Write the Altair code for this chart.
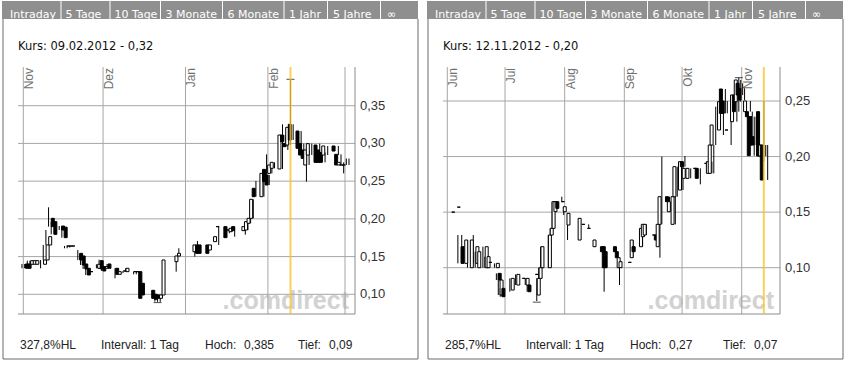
import altair as alt
import pandas as pd
import numpy as np

# ---------------- left panel: 3 months, Nov 2011 - Feb 2012 ----------------
L_dates = ["2011-10-31", "2011-11-01", "2011-11-02", "2011-11-03", "2011-11-04", "2011-11-07", "2011-11-08",
           "2011-11-09", "2011-11-10", "2011-11-11", "2011-11-14", "2011-11-15", "2011-11-16", "2011-11-17",
           "2011-11-18", "2011-11-21", "2011-11-22", "2011-11-23", "2011-11-24", "2011-11-25", "2011-11-28",
           "2011-11-29", "2011-11-30", "2011-12-01", "2011-12-02", "2011-12-05", "2011-12-06", "2011-12-08",
           "2011-12-09", "2011-12-12", "2011-12-13", "2011-12-14", "2011-12-15", "2011-12-19", "2011-12-20",
           "2011-12-21", "2011-12-22", "2011-12-23", "2011-12-28", "2011-12-29", "2012-01-04", "2012-01-05",
           "2012-01-06", "2012-01-09", "2012-01-10", "2012-01-12", "2012-01-13", "2012-01-16", "2012-01-17",
           "2012-01-18", "2012-01-19", "2012-01-23", "2012-01-24", "2012-01-25", "2012-01-26", "2012-01-27",
           "2012-01-30", "2012-01-31", "2012-02-01", "2012-02-02", "2012-02-03", "2012-02-06", "2012-02-07",
           "2012-02-08", "2012-02-09", "2012-02-10", "2012-02-13", "2012-02-14", "2012-02-15", "2012-02-16",
           "2012-02-17", "2012-02-20", "2012-02-21", "2012-02-22", "2012-02-23", "2012-02-27", "2012-02-28",
           "2012-02-29", "2012-03-01", "2012-03-02"]
L_open = [.1402, .1402, .1398, .1398, .1398, .1398, .1455, .1654, .2007, .1963, .1905, .1890, .1640, .1640,
          .1640, .1543, .1508, .1402, .1345, .1300, .1345, .1446, .1367, .1345, .1402, .1345, .1265, .1309,
          .1300, .1300, .1300, .1300, .1146, .1053, .1000, .0991, .0947, .0991, .1433, .1508, .1565, .1654,
          .1654, .1654, .1587, .1698, .1897, .1897, .1852, .1830, .1897, .1844, .1852, .1941, .2007, .2405,
          .2294, .2656, .2581, .2603, .2670, .2661, .3111, .3000, .2979, .3253, .3164, .2997, .2913, .2714,
          .2846, .2979, .2913, .2880, .2846, .2966, .2855, .2714, .2714, .2714]
L_close = [.1345, .1345, .1446, .1446, .1446, .1455, .1654, .1764, .1897, .1795, .1852, .1751, .1640, .1640,
           .1640, .1455, .1389, .1336, .1256, .1300, .1398, .1336, .1309, .1367, .1345, .1265, .1300, .1309,
           .1345, .1300, .1300, .0947, .0991, .0947, .0934, .0947, .0991, .1455, .1508, .1543, .1654, .1543,
           .1543, .1543, .1654, .1764, .1897, .1751, .1852, .1875, .1844, .1897, .1963, .2007, .2259, .2294,
           .2603, .2493, .2449, .2714, .2749, .3111, .3023, .2957, .3213, .3045, .2935, .2846, .2802, .2913,
           .2997, .2749, .2749, .2749, .2966, .2899, .2714, .2749, .2714, .2714]
L_high = [.1402, .1402, .1446, .1446, .1446, .1455, .1654, .1852, .2153, .1963, .1905, .1890, .1640, .1640,
          .1640, .1587, .1508, .1402, .1345, .1300, .1398, .1459, .1367, .1367, .1402, .1345, .1300, .1309,
          .1345, .1300, .1300, .1300, .1146, .1053, .1000, .0991, .0991, .1455, .1508, .1610, .1654, .1707,
          .1654, .1654, .1654, .1764, .1897, .1897, .1852, .1875, .1897, .1897, .1963, .2007, .2259, .2502,
          .2603, .2855, .2581, .2714, .2749, .3253, .3111, .3000, .3850, .3253, .3164, .2997, .2913, .2913,
          .2997, .2997, .2913, .2880, .2966, .2966, .2855, .2749, .2800, .2800]
L_low = [.1345, .1345, .1398, .1398, .1398, .1345, .1455, .1654, .1897, .1795, .1852, .1751, .1610, .1610,
         .1620, .1455, .1389, .1336, .1256, .1300, .1345, .1336, .1309, .1345, .1345, .1212, .1265, .1280,
         .1300, .1265, .1265, .0947, .0991, .0947, .0903, .0900, .0900, .0991, .1300, .1508, .1499, .1543,
         .1543, .1543, .1587, .1698, .1654, .1751, .1810, .1830, .1764, .1790, .1852, .1941, .2007, .2294,
         .2294, .2493, .2449, .2603, .2670, .2661, .3023, .2913, .2979, .3045, .2935, .2846, .2493, .2714,
         .2846, .2749, .2749, .2749, .2846, .2846, .2714, .2603, .2714, .2714]
L_months = ["2011-11-01", "2011-12-01", "2012-01-01", "2012-02-01"]
L_month_names = ["Nov", "Dez", "Jan", "Feb"]
L_extra_grid = ["2012-03-01"]
L_yticks = [0.10, 0.15, 0.20, 0.25, 0.30, 0.35]
L_ylabels = ["0,10", "0,15", "0,20", "0,25", "0,30", "0,35"]
L_cursor = "2012-02-09"
L_title = "Kurs: 09.02.2012 - 0,32"
L_hl = "327,8%HL"
L_hoch, L_tief = "0,385", "0,09"
L_ext_dates = ["2012-02-09", "2011-12-21"]
L_ext_vals = [0.3850, 0.0890]

# ---------------- right panel: 6 months, Jun 2012 - Nov 2012 ----------------
R_dates = ["2012-06-01", "2012-06-04", "2012-06-06", "2012-06-08", "2012-06-11", "2012-06-14", "2012-06-15",
           "2012-06-19", "2012-06-20", "2012-06-21", "2012-06-25", "2012-06-26", "2012-06-27", "2012-06-28",
           "2012-07-03", "2012-07-06", "2012-07-09", "2012-07-11", "2012-07-12", "2012-07-16", "2012-07-17",
           "2012-07-18", "2012-07-19", "2012-07-23", "2012-07-24", "2012-07-25", "2012-07-26", "2012-07-27",
           "2012-07-30", "2012-07-31", "2012-08-02", "2012-08-08", "2012-08-10", "2012-08-13", "2012-08-16",
           "2012-08-20", "2012-08-21", "2012-08-22", "2012-08-27", "2012-08-28", "2012-08-29", "2012-08-30",
           "2012-09-04", "2012-09-05", "2012-09-06", "2012-09-10", "2012-09-11", "2012-09-12", "2012-09-17",
           "2012-09-18", "2012-09-19", "2012-09-20", "2012-09-24", "2012-09-25", "2012-09-27", "2012-09-28",
           "2012-10-01", "2012-10-02", "2012-10-03", "2012-10-05", "2012-10-09", "2012-10-10", "2012-10-15",
           "2012-10-16", "2012-10-17", "2012-10-18", "2012-10-22", "2012-10-23", "2012-10-24", "2012-10-26",
           "2012-10-29", "2012-10-30", "2012-10-31", "2012-11-01", "2012-11-02", "2012-11-05", "2012-11-06",
           "2012-11-07", "2012-11-08", "2012-11-09", "2012-11-12", "2012-11-13", "2012-11-14"]
R_open = [.1500, .1545, .1189, .1039, .1000, .1039, .1000, .1000, .1000, .1048, .1000, .0949, .0754, .0814,
          .0799, .0844, .0904, .0844, .0844, .0940, .0754, .0904, .1000, .1000, .1294, .1354, .1504, .1594,
          .1594, .1504, .1384, .1249, .1390, .1354, .1189, .1189, .1189, .1144, .1189, .1144, .1000, .1000,
          .1048, .1090, .1189, .1189, .1279, .1294, .1294, .1294, .1189, .1390, .1639, .1504, .1390, .1639,
          .1699, .1954, .1804, .1804, .1894, .1894, .1939, .1849, .1849, .2104, .2239, .2608, .2500, .2239,
          .2314, .2554, .2494, .2659, .2614, .2404, .2404, .2359, .2359, .2179, .2404, .2005, .2104]
R_close = [.1500, .1545, .1039, .1249, .1249, .1189, .1144, .1189, .1099, .1048, .1039, .0889, .0889, .0739,
           .0904, .0940, .0904, .0904, .0784, .0940, .0904, .1000, .1189, .1294, .1354, .1594, .1594, .1534,
           .1594, .1549, .1489, .1444, .1390, .1354, .1249, .1144, .1000, .1000, .1144, .1090, .1090, .1054,
           .1048, .1249, .1144, .1354, .1390, .1390, .1294, .1249, .1390, .1639, .1594, .1594, .1639, .1909,
           .1954, .1909, .1894, .1894, .1894, .1804, .1939, .1954, .2104, .2284, .2494, .2389, .2389, .2239,
           .2554, .2404, .2689, .2554, .2509, .2500, .2359, .2008, .2104, .2104, .2005, .2104, .1789]
R_high = [.1500, .1545, .1294, .1294, .1249, .1294, .1144, .1189, .1099, .1048, .1039, .0949, .0949, .0814,
          .0904, .0940, .0904, .0904, .0844, .0940, .0904, .1000, .1189, .1294, .1354, .1594, .1594, .1594,
          .1639, .1549, .1489, .1444, .1390, .1390, .1249, .1189, .1189, .1144, .1189, .1144, .1090, .1054,
          .1048, .1249, .1189, .1354, .1390, .1390, .1294, .1390, .1390, .2000, .1639, .1594, .1639, .1909,
          .1954, .2005, .1894, .1894, .1894, .1894, .1939, .1954, .2104, .2449, .2494, .2608, .2500, .2389,
          .2554, .2710, .2689, .2659, .2614, .2500, .2404, .2359, .2359, .2179, .2500, .2104, .2104]
R_low = [.1500, .1545, .1039, .1039, .1000, .1039, .1000, .1000, .1000, .1048, .1000, .0889, .0754, .0739,
         .0784, .0844, .0904, .0844, .0784, .0940, .0700, .0754, .1000, .1000, .1294, .1354, .1504, .1534,
         .1594, .1474, .1249, .1249, .1390, .1354, .1189, .1144, .0784, .1000, .1144, .1090, .0844, .1000,
         .1048, .1090, .1144, .1189, .1279, .1294, .1294, .1249, .1090, .1390, .1594, .1504, .1390, .1639,
         .1699, .1909, .1804, .1804, .1894, .1750, .1939, .1849, .1849, .2104, .2194, .2389, .2389, .2104,
         .2314, .2404, .2494, .2554, .2509, .2404, .2359, .2008, .2104, .2104, .1955, .2005, .1789]
R_months = ["2012-06-01", "2012-07-01", "2012-08-01", "2012-09-01", "2012-10-01", "2012-11-01"]
R_month_names = ["Jun", "Jul", "Aug", "Sep", "Okt", "Nov"]
R_extra_grid = []
R_yticks = [0.10, 0.15, 0.20, 0.25]
R_ylabels = ["0,10", "0,15", "0,20", "0,25"]
R_cursor = "2012-11-12"
R_title = "Kurs: 12.11.2012 - 0,20"
R_hl = "285,7%HL"
R_hoch, R_tief = "0,27", "0,07"
R_ext_dates = ["2012-10-30", "2012-07-17"]
R_ext_vals = [0.2710, 0.0690]

TABS = ["Intraday", "5 Tage", "10 Tage", "3 Monate", "6 Monate", "1 Jahr", "5 Jahre", "\u221e"]

# ---------------- layout constants ----------------
TAB_X = [10, 65.5, 114.5, 165.5, 227.5, 289, 333, 387]
SEP_X = [61, 110, 160.5, 222.5, 284, 327.5, 380.5]
GRID = "#a6a6a6"
FONT_V = "DejaVu Sans"
FONT_A = "Liberation Sans"


def one_df():
    return pd.DataFrame({"a": [0]})


def txt(s, x, y, **kw):
    return alt.Chart(pd.DataFrame({"t": [s]})).mark_text(**kw).encode(
        x=alt.value(x), y=alt.value(y), text="t:N")


def rect(x0, x1, y0, y1, **kw):
    return alt.Chart(one_df()).mark_rect(**kw).encode(
        x=alt.value(x0), x2=alt.value(x1), y=alt.value(y0), y2=alt.value(y1))


def hrule(x0, x1, y, color, w=1):
    return alt.Chart(one_df()).mark_rule(color=color, strokeWidth=w).encode(
        x=alt.value(x0), x2=alt.value(x1), y=alt.value(y))


def vrule(x, y0, y1, color, w=1):
    return alt.Chart(one_df()).mark_rule(color=color, strokeWidth=w).encode(
        x=alt.value(x), y=alt.value(y0), y2=alt.value(y1))


def ts(d, hour="12"):
    return d + "T" + hour + ":00:00Z"


def panel(ox, dates, o, c, h, l, xdom, xrng, ydom, yrng, months, mnames, extra, yticks, ylabels,
          cursor, title, hl, hoch, tief, ext_d, ext_v):
    xs = alt.Scale(type="utc", domain=[alt.DateTime(**xdom[0]), alt.DateTime(**xdom[1])], range=xrng)
    ys = alt.Scale(domain=ydom, range=yrng, zero=False, nice=False)
    X = lambda f: alt.X(f, type="temporal", scale=xs, axis=None)
    Y = lambda f: alt.Y(f, type="quantitative", scale=ys, axis=None)

    df = pd.DataFrame({"d": [ts(s) for s in dates], "o": o, "c": c, "h": h, "l": l})
    df["fill"] = np.where(df["c"] < df["o"], "black", "white")

    px0, px1, py0, py1 = ox + 18, ox + 355, 67, 314
    layers = []
    # tab bar
    layers.append(rect(ox + 2, ox + 418, 1, 19, fill="#8f8f8f"))
    for sx in SEP_X:
        layers.append(vrule(ox + sx, 1, 19, "white"))
    for tx, t in zip(TAB_X, TABS):
        layers.append(txt(t, ox + tx, 15, font=FONT_V, fontSize=11, color="white", align="left"))
    # panel border
    layers.append(vrule(ox + 3, 19, 359, "#6b6b6b"))
    layers.append(vrule(ox + 418, 19, 359, "#6b6b6b"))
    layers.append(hrule(ox + 3, ox + 418, 359, "#6b6b6b"))
    # title
    layers.append(txt(title, ox + 18, 47, font=FONT_V, fontSize=11.5, color="#111", align="left"))
    # watermark
    layers.append(txt(".comdirect", ox + 349, 301, font=FONT_A, fontSize=25, fontWeight="bold",
                      color="#d2d2d2", align="right"))
    # horizontal grid
    gy = pd.DataFrame({"v": yticks, "lab": ylabels})
    layers.append(alt.Chart(gy).mark_rule(color=GRID, strokeWidth=1).encode(
        y=Y("v"), x=alt.value(px0), x2=alt.value(px1)))
    # vertical grid
    gx = pd.DataFrame({"d": [ts(m, "00") for m in months + extra]})
    layers.append(alt.Chart(gx).mark_rule(color=GRID, strokeWidth=1).encode(
        x=X("d"), y=alt.value(py0), y2=alt.value(py1)))
    # frame bottom/right
    layers.append(hrule(px0, px1, py1, "#8c8c8c"))
    layers.append(vrule(px1, py0, py1, "#8c8c8c"))
    # month labels
    ml = pd.DataFrame({"d": [ts(m, "00") for m in months], "t": mnames})
    layers.append(alt.Chart(ml).mark_text(angle=270, align="right", baseline="top", font=FONT_A,
                                          fontSize=12, color="#707070", dy=1).encode(
        x=X("d"), y=alt.value(py0 + 1), text="t:N"))
    # y labels
    layers.append(alt.Chart(gy).mark_text(align="left", baseline="middle", font=FONT_A, fontSize=13,
                                          color="#333333").encode(
        y=Y("v"), x=alt.value(px1 + 5), text="lab:N"))
    # wicks
    layers.append(alt.Chart(df).mark_rule(color="black", strokeWidth=1).encode(
        x=X("d"), y=Y("l"), y2=alt.Y2("h")))
    # bodies
    layers.append(alt.Chart(df).mark_bar(size=3, stroke="black", strokeWidth=1).encode(
        x=X("d"), y=Y("o"), y2=alt.Y2("c"), fill=alt.Fill("fill:N", scale=None)))
    # high / low markers
    ex = pd.DataFrame({"d": [ts(s) for s in ext_d], "v": ext_v})
    layers.append(alt.Chart(ex).mark_tick(orient="horizontal", size=8, thickness=1, color="black").encode(
        x=X("d"), y=Y("v")))
    # cursor
    cu = pd.DataFrame({"d": [ts(cursor)]})
    layers.append(alt.Chart(cu).mark_rule(color="#f7c531", strokeWidth=2, opacity=0.8).encode(
        x=X("d"), y=alt.value(py0), y2=alt.value(py1)))
    # stats
    layers.append(txt(hl, ox + 20, 345, font=FONT_A, fontSize=12, color="#222", align="left"))
    layers.append(txt("Intervall: 1 Tag", ox + 101, 345, font=FONT_A, fontSize=12, color="#222", align="left"))
    layers.append(txt("Hoch:", ox + 205, 345, font=FONT_A, fontSize=12, color="#222", align="left"))
    layers.append(txt(hoch, ox + 244, 345, font=FONT_A, fontSize=12, color="#222", align="left"))
    layers.append(txt("Tief:", ox + 298, 345, font=FONT_A, fontSize=12, color="#222", align="left"))
    layers.append(txt(tief, ox + 329, 345, font=FONT_A, fontSize=12, color="#222", align="left"))
    return layers


left = panel(0, L_dates, L_open, L_close, L_high, L_low,
             [dict(year=2011, month=11, date=1, utc=True), dict(year=2012, month=3, date=1, utc=True)],
             [23.3, 345.0], [0.10, 0.35], [294.3, 105.7],
             L_months, L_month_names, L_extra_grid, L_yticks, L_ylabels,
             L_cursor, L_title, L_hl, L_hoch, L_tief, L_ext_dates, L_ext_vals)
right = panel(425, R_dates, R_open, R_close, R_high, R_low,
              [dict(year=2012, month=6, date=1, utc=True), dict(year=2012, month=11, date=1, utc=True)],
              [447.3, 741.7], [0.10, 0.25], [267.7, 101.0],
              R_months, R_month_names, R_extra_grid, R_yticks, R_ylabels,
              R_cursor, R_title, R_hl, R_hoch, R_tief, R_ext_dates, R_ext_vals)

chart = alt.layer(*(left + right)).resolve_scale(x="independent", y="independent").properties(
    width=847, height=365, autosize=alt.AutoSizeParams(type="none"), padding=0, background="white"
).configure_view(stroke=None)

chart.save("out.html", embed_options={"renderer": "svg", "actions": False})
